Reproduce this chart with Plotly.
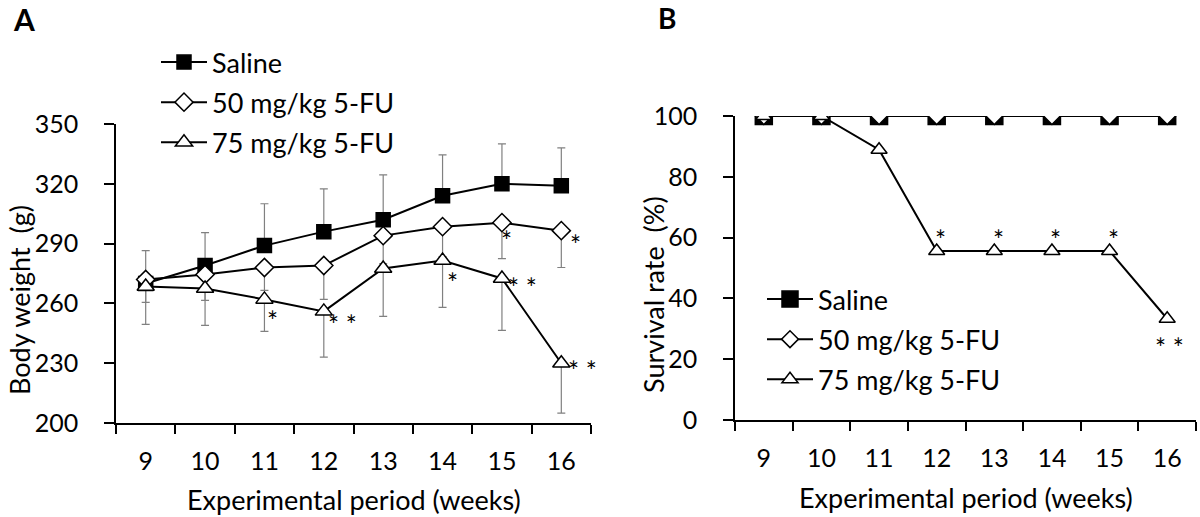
import plotly.graph_objects as go

FONT = "Lato"

weeks = ["9", "10", "11", "12", "13", "14", "15", "16"]

# Panel A: body weight (g)
saline_bw = [270, 279, 289, 296, 302, 314, 320, 319]
saline_err = [16.5, 16.5, 21, 21.5, 22.5, 20.5, 20, 19]
fu50_bw = [272, 274.5, 278, 279, 294, 298.5, 300.5, 296.5]
fu50_err = [11.5, 13, 11.5, 17, 14, 15, 18, 18.5]
fu75_bw = [268.5, 267.5, 262, 256, 277.5, 281.5, 272.5, 230]
fu75_err = [19, 18.5, 16, 23, 24, 23.5, 26, 25]

# Panel B: survival rate (%)
saline_sr = [100, 100, 100, 100, 100, 100, 100, 100]
fu50_sr = [100, 100, 100, 100, 100, 100, 100, 100]
fu75_sr = [100, 100, 88.9, 55.6, 55.6, 55.6, 55.6, 33.3]

# significance marks: (week, y, text, xshift)
stars_a = [
    ("11", 253, "*", 8), ("12", 251, "* *", 19), ("14", 272, "*", 10),
    ("15", 293.5, "*", 5), ("15", 269.5, "* *", 21), ("16", 291.5, "*", 14),
    ("16", 228, "* *", 21),
]
stars_b = [
    ("12", 60.5, "*", 4), ("13", 60.5, "*", 4), ("14", 60.5, "*", 4),
    ("15", 60.5, "*", 4), ("16", 25, "* *", 2),
]

names = ["Saline", "50 mg/kg 5-FU", "75 mg/kg 5-FU"]
symbols = ["square", "diamond", "triangle-up"]
fills = ["black", "white", "white"]

fig = go.Figure()

# error bars first so the black lines sit on top
ebars = [
    (saline_bw, saline_err, [0] * 8),
    (fu50_bw, [0] * 8, fu50_err),
    (fu75_bw, [0] * 8, fu75_err),
]
for ys, up, down in ebars:
    fig.add_trace(go.Scatter(
        x=weeks, y=ys, mode="markers",
        marker=dict(size=1, color="rgba(0,0,0,0)"),
        error_y=dict(type="data", symmetric=False, array=up, arrayminus=down,
                     color="#808080", thickness=1.2, width=4),
        showlegend=False, hoverinfo="skip", xaxis="x", yaxis="y",
    ))

sizes_a = [14, 14, 15]
for i, ys in enumerate([saline_bw, fu50_bw, fu75_bw]):
    fig.add_trace(go.Scatter(
        x=weeks, y=ys, mode="lines+markers", name=names[i],
        line=dict(color="black", width=2),
        marker=dict(symbol=symbols[i], size=sizes_a[i], color=fills[i],
                    line=dict(color="black", width=1.5)),
        legend="legend", legendgroup=f"a{i}", xaxis="x", yaxis="y",
    ))

sizes_b = [17, 13, 14]
for i, ys in enumerate([saline_sr, fu50_sr, fu75_sr]):
    fig.add_trace(go.Scatter(
        x=weeks, y=ys, mode="lines+markers", name=names[i],
        line=dict(color="black", width=2),
        marker=dict(symbol=symbols[i], size=sizes_b[i], color=fills[i],
                    line=dict(color="black", width=1.5)),
        legend="legend2", legendgroup=f"b{i}", xaxis="x2", yaxis="y2",
    ))

star_font = dict(size=26, family=FONT, color="black")
ann = []
for wk, y, t, dx in stars_a:
    ann.append(dict(x=weeks.index(wk), y=y, text=t, xref="x", yref="y",
                    showarrow=False, xshift=dx, yshift=-4, font=star_font))
for wk, y, t, dx in stars_b:
    ann.append(dict(x=weeks.index(wk), y=y, text=t, xref="x2", yref="y2",
                    showarrow=False, xshift=dx, yshift=-4, font=star_font))

# panel letters and axis titles
txt = dict(xref="paper", yref="paper", showarrow=False, xanchor="center",
           yanchor="middle")
title_font = dict(size=27, family=FONT, color="black")
ann += [
    dict(txt, x=24 / 1200, y=1 - 19 / 517, text="<b>A</b>",
         font=dict(size=30, family=FONT, color="black")),
    dict(txt, x=667 / 1200, y=1 - 18 / 517, text="<b>B</b>",
         font=dict(size=28, family=FONT, color="black")),
    dict(txt, x=19 / 1200, y=1 - 300 / 517, text="Body weight  (g)",
         textangle=-90, font=title_font),
    dict(txt, x=653 / 1200, y=1 - 295 / 517, text="Survival rate  (%)",
         textangle=-90, font=title_font),
    dict(txt, x=354 / 1200, y=1 - 499 / 517, text="Experimental period (weeks)",
         font=title_font),
    dict(txt, x=966 / 1200, y=1 - 497 / 517, text="Experimental period (weeks)",
         font=title_font),
]

tick_font = dict(size=25, family=FONT, color="black")
xax = dict(type="category", tickson="boundaries", ticks="outside", ticklen=9,
           tickwidth=1.5, tickcolor="black", showline=True, linecolor="black",
           linewidth=1.5, showgrid=False, zeroline=False, ticklabelstandoff=15,
           tickangle=0, range=[-0.5, 7.5], tickfont=tick_font)
yax = dict(ticks="outside", ticklen=10, tickwidth=1.5, tickcolor="black",
           showline=True, linecolor="black", linewidth=1.5, showgrid=False,
           zeroline=False, ticklabelstandoff=21, tickfont=tick_font)

leg = dict(font=dict(size=27, family=FONT, color="black"), bgcolor="rgba(0,0,0,0)",
           itemwidth=46, tracegroupgap=2, xanchor="left", yanchor="top",
           itemclick=False)

fig.update_layout(
    width=1200, height=517,
    margin=dict(l=0, r=0, t=0, b=0, autoexpand=False),
    plot_bgcolor="white", paper_bgcolor="white",
    font=dict(family=FONT, color="black"),
    xaxis=dict(xax, domain=[116 / 1200, 591 / 1200], anchor="y"),
    yaxis=dict(yax, domain=[1 - 423 / 517, 1 - 124 / 517], range=[200, 350],
               tickvals=[200, 230, 260, 290, 320, 350], anchor="x"),
    xaxis2=dict(xax, domain=[735 / 1200, 1196 / 1200], anchor="y2"),
    yaxis2=dict(yax, domain=[1 - 420 / 517, 1 - 116 / 517], range=[0, 100],
                tickvals=[0, 20, 40, 60, 80, 100], anchor="x2"),
    legend=dict(leg, x=156 / 1200, y=1 - 38 / 517),
    legend2=dict(leg, x=762 / 1200, y=1 - 275 / 517),
    annotations=ann,
)

# drop the default 8px page margin so the figure sits at the window corner
fig.write_html("out.html", config={"displayModeBar": False},
               post_script="document.body.style.margin='0';")
